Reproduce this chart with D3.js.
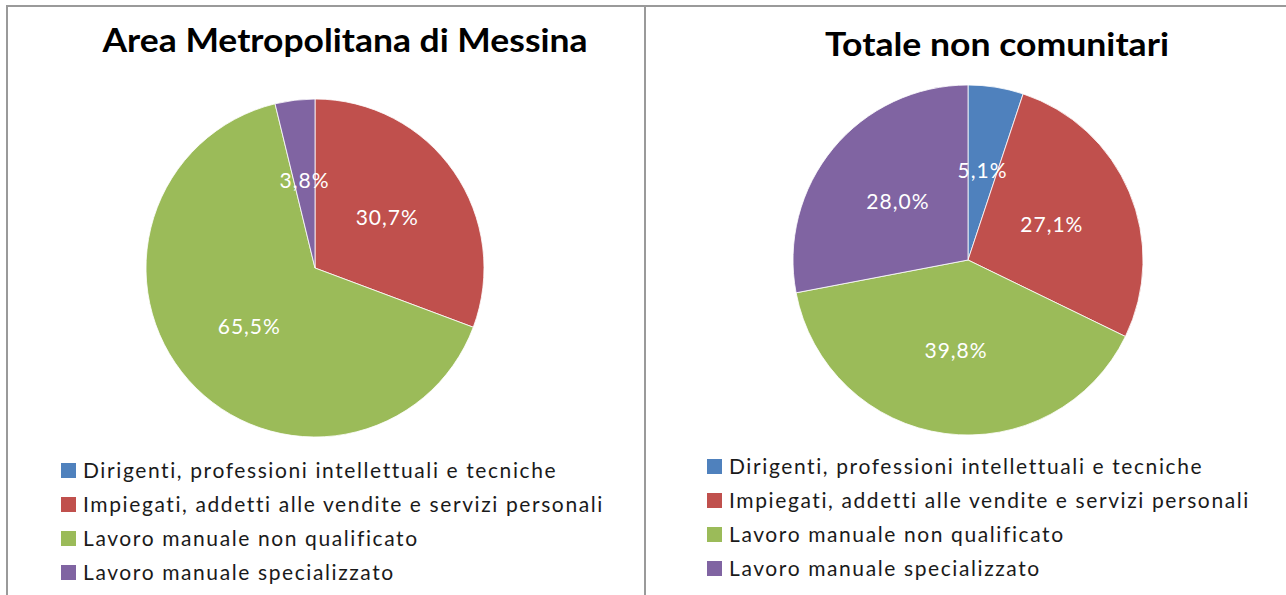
<!DOCTYPE html>
<html>
<head>
<meta charset="utf-8">
<title>Professioni - Messina</title>
<script src="https://d3js.org/d3.v7.min.js"></script>
<style>
  body { margin: 0; background: white; }
  svg { display: block; }
  .title { font-family: Lato, "Open Sans", sans-serif; font-weight: bold; font-size: 32px; fill: #000; }
  .legend text { font-family: Lato, "Open Sans", sans-serif; font-size: 21px; fill: #1a1a1a; letter-spacing: 1.6px; }
  .lbl { font-family: Lato, "Open Sans", sans-serif; font-size: 21px; fill: #fff; letter-spacing: 1px; }
</style>
</head>
<body>
<svg id="chart" width="1286" height="595"></svg>
<script>
// categories and colours (Excel 2007 palette)
const categories = [
  "Dirigenti, professioni intellettuali e tecniche",
  "Impiegati, addetti alle vendite e servizi personali",
  "Lavoro manuale non qualificato",
  "Lavoro manuale specializzato"
]
const colors = ["#4F81BD", "#C0504D", "#9BBB59", "#8064A2"]

// percentages per panel
const messina = [0, 30.7, 65.5, 3.8]
const nonComunitari = [5.1, 27.1, 39.8, 28.0]

const titles = ["Area Metropolitana di Messina", "Totale non comunitari"]

const svg = d3.select("#chart")

// frame lines
svg.append("path")
  .attr("d", "M7,600V6H1286M645,6V600")
  .attr("fill", "none")
  .attr("stroke", "#9a9a9a")
  .attr("stroke-width", 2)

const color = d3.scaleOrdinal(categories, colors)
const fmt = v => d3.format(".1f")(v).replace(".", ",") + "%"

const panels = [
  { title: titles[0], values: messina, cx: 315, cy: 268, r: 169, tx: 345, ty: 52, tw: 485, lx: 61, ly: 471 },
  { title: titles[1], values: nonComunitari, cx: 968, cy: 260, r: 175, tx: 997, ty: 56, tw: 344, lx: 707, ly: 467 }
]

const pie = d3.pie().sort(null).value(d => d.v)

panels.forEach(p => {
  const g = svg.append("g")

  g.append("text")
    .attr("class", "title")
    .attr("x", p.tx).attr("y", p.ty)
    .attr("text-anchor", "middle")
    .attr("textLength", p.tw)
    .attr("lengthAdjust", "spacingAndGlyphs")
    .text(p.title)

  const arcs = pie(categories.map((c, i) => ({ c: c, v: p.values[i] })))
  const arc = d3.arc().innerRadius(0).outerRadius(p.r)
  const lblArc = d3.arc().innerRadius(p.r * 0.52).outerRadius(p.r * 0.52)

  const pg = g.append("g").attr("transform", `translate(${p.cx},${p.cy})`)
  pg.selectAll("path")
    .data(arcs.filter(d => d.data.v > 0))
    .join("path")
      .attr("d", arc)
      .attr("fill", d => color(d.data.c))
      .attr("stroke", "#fff")
      .attr("stroke-width", 0.8)

  pg.selectAll("text")
    .data(arcs.filter(d => d.data.v > 0))
    .join("text")
      .attr("class", "lbl")
      .attr("transform", d => `translate(${lblArc.centroid(d)})`)
      .attr("text-anchor", "middle")
      .attr("dy", "0.35em")
      .text(d => fmt(d.data.v))

  const leg = g.append("g").attr("class", "legend")
    .attr("transform", `translate(${p.lx},${p.ly})`)
  const items = leg.selectAll("g")
    .data(categories)
    .join("g")
      .attr("transform", (d, i) => `translate(0,${i * 34})`)
  items.append("rect")
    .attr("x", 0).attr("y", -8)
    .attr("width", 15).attr("height", 15)
    .attr("fill", d => color(d))
  items.append("text")
    .attr("x", 22).attr("y", 7)
    .text(d => d)
})
</script>
</body>
</html>
